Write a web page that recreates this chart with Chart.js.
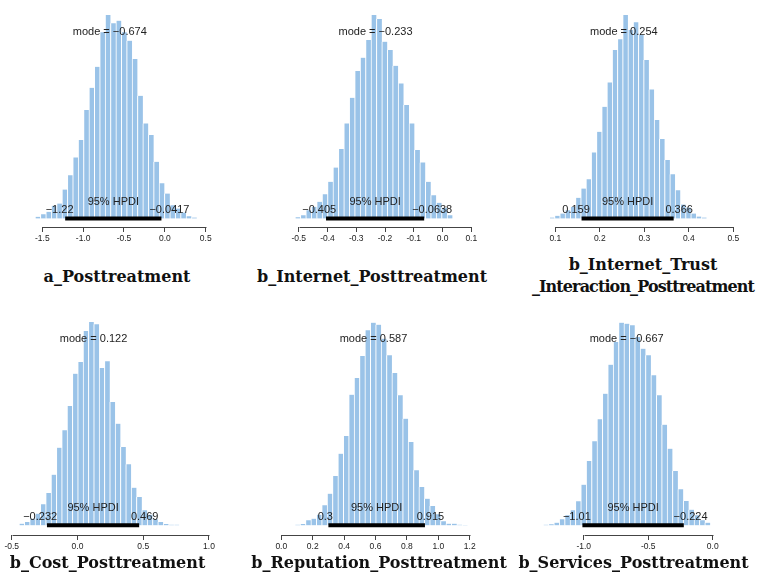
<!DOCTYPE html>
<html>
<head>
<meta charset="utf-8">
<script src="https://cdn.jsdelivr.net/npm/chart.js@4.4.0/dist/chart.umd.min.js"></script>
<style>
    body { margin: 0; background: #fff; width: 759px; height: 579px; position: relative; overflow: hidden; }
    .panel { position: absolute; }
    .title {
        position: absolute; transform: translate(-50%, -50%);
        font: bold 16px 'DejaVu Serif', serif; color: #111;
        white-space: nowrap; text-align: center; line-height: 22px;
    }
    .title .tight { letter-spacing: -0.9px; }
</style>
</head>
<body>
<script>
// 参数名称（标题）
const titles = [
    ['a_Posttreatment'],
    ['b_Internet_Posttreatment'],
    ['b_Internet_Trust', '_Interaction_Posttreatment'],
    ['b_Cost_Posttreatment'],
    ['b_Reputation_Posttreatment'],
    ['b_Services_Posttreatment']
];

// 直方图高度（相对计数）
const counts1 = [5, 13, 20, 38, 45, 87, 130, 183, 235, 325, 392, 455, 558, 610, 585, 593, 558, 533, 478, 368, 285, 250, 170, 106, 75, 40, 30, 18, 7, 3];
const counts2 = [4, 10, 25, 35, 50, 73, 110, 153, 208, 285, 362, 442, 482, 535, 610, 598, 530, 505, 458, 405, 340, 285, 205, 168, 110, 70, 47, 32, 10];
const counts3 = [3, 8, 15, 25, 35, 62, 90, 118, 198, 260, 335, 408, 505, 537, 610, 565, 588, 550, 475, 387, 295, 238, 175, 133, 85, 42, 33, 15, 6, 3];
const counts4 = [5, 10, 20, 35, 63, 97, 152, 233, 285, 358, 455, 490, 583, 610, 603, 472, 492, 370, 305, 235, 183, 113, 85, 45, 32, 18, 10, 4, 2, 2];
const counts5 = [2, 4, 15, 20, 32, 60, 95, 148, 215, 268, 392, 442, 508, 585, 608, 602, 560, 510, 457, 390, 320, 250, 165, 115, 80, 58, 33, 12, 5, 5, 2, 1];
const counts6 = [2, 3, 8, 18, 30, 45, 72, 122, 193, 252, 318, 395, 482, 550, 608, 605, 600, 565, 530, 510, 450, 390, 302, 230, 163, 108, 73, 47, 30, 15, 8];
const allCounts = [counts1, counts2, counts3, counts4, counts5, counts6];

// 直方图分组：起点与组距
const binStart = [-1.589, -0.513, 0.0865, -0.4445, 0.0854, -1.315];
const binWidth = [0.066, 0.01888, 0.01178, 0.0406, 0.0344, 0.0418];

// 众数与95% HPDI
const modes = [-0.674, -0.233, 0.254, 0.122, 0.587, -0.667];
const hpdiLow = [-1.22, -0.405, 0.159, -0.232, 0.3, -1.01];
const hpdiHigh = [-0.0417, -0.0638, 0.366, 0.469, 0.915, -0.224];

// 坐标轴刻度
const ticks1 = [-1.5, -1.0, -0.5, 0.0, 0.5];
const ticks2 = [-0.5, -0.4, -0.3, -0.2, -0.1, 0.0, 0.1];
const ticks3 = [0.1, 0.2, 0.3, 0.4, 0.5];
const ticks4 = [-0.5, 0.0, 0.5, 1.0];
const ticks5 = [0.0, 0.2, 0.4, 0.6, 0.8, 1.0, 1.2];
const ticks6 = [-1.0, -0.5, 0.0];
const allTicks = [ticks1, ticks2, ticks3, ticks4, ticks5, ticks6];

// 版面位置（像素）
const layouts = [
    { x0: 42.3, x1: 205.7, top: 15, zero: 218.5, axis: 227, tx: 117, ty: 277 },
    { x0: 298.7, x1: 471.3, top: 15, zero: 218.5, axis: 227, tx: 372, ty: 277 },
    { x0: 555.3, x1: 733.3, top: 15, zero: 218.5, axis: 227, tx: 643, ty: 276 },
    { x0: 11.7, x1: 209, top: 322, zero: 525.3, axis: 535, tx: 107.5, ty: 563 },
    { x0: 281.3, x1: 469.7, top: 322, zero: 525.3, axis: 535, tx: 379, ty: 563 },
    { x0: 583.7, x1: 712.7, top: 322, zero: 525.3, axis: 535, tx: 633.5, ty: 563 }
];

const YMAX = 610;
const AXIS_H = 22;
const BAR_COLOR = '#9ac3e8';
const TEXT_FONT = '11px "Liberation Sans", Arial, sans-serif';

function fmt(v) {
    return String(v).replace('-', '\u2212');
}

// 注释：坐标轴线、众数、HPDI 文字
const annotate = {
    id: 'annotate',
    afterDatasetsDraw(chart, args, o) {
        const { ctx, chartArea, scales: { x, y } } = chart;
        ctx.save();
        // R 风格的坐标轴线，仅覆盖刻度范围
        const ay = Math.round(chartArea.bottom) + 0.5;
        ctx.strokeStyle = '#444';
        ctx.lineWidth = 1;
        ctx.beginPath();
        ctx.moveTo(Math.round(x.getPixelForValue(o.first)) + 0.5, ay);
        ctx.lineTo(Math.round(x.getPixelForValue(o.last)) + 0.5, ay);
        ctx.stroke();

        ctx.fillStyle = '#222';
        ctx.font = TEXT_FONT;
        ctx.textBaseline = 'middle';
        const y0 = y.getPixelForValue(0);

        // 众数
        ctx.textAlign = 'center';
        ctx.fillText('mode = ' + fmt(o.mode), x.getPixelForValue(o.mode), y.getPixelForValue(YMAX * 0.915));

        // 95% HPDI
        ctx.fillText('95% HPDI', x.getPixelForValue((o.lo + o.hi) / 2), y0 - 17);

        ctx.textAlign = 'left';
        const loTxt = fmt(o.lo), hiTxt = fmt(o.hi);
        const wl = ctx.measureText(loTxt).width, wh = ctx.measureText(hiTxt).width;
        ctx.fillText(loTxt, x.getPixelForValue(o.lo) - 0.7 * wl, y0 - 8.5);
        ctx.fillText(hiTxt, x.getPixelForValue(o.hi) - 0.3 * wh, y0 - 8.5);
        ctx.restore();
    }
};

function buildPanel(i) {
    const L = layouts[i];
    const tk = allTicks[i];
    const counts = allCounts[i];
    const first = tk[0], last = tk[tk.length - 1];
    const ppu = (L.x1 - L.x0) / (last - first);
    const barLo = binStart[i];
    const barHi = binStart[i] + binWidth[i] * counts.length;
    const lo = Math.min(first, barLo), hi = Math.max(last, barHi);
    const left = Math.floor(L.x0 + (lo - first) * ppu - 26);
    const right = Math.ceil(L.x0 + (hi - first) * ppu + 26);
    const xmin = first + (left - L.x0) / ppu;
    const xmax = first + (right - L.x0) / ppu;
    const ymin = -(L.axis - L.zero) * YMAX / (L.zero - L.top);

    const box = document.createElement('div');
    box.className = 'panel';
    box.style.left = left + 'px';
    box.style.top = L.top + 'px';
    box.style.width = (right - left) + 'px';
    box.style.height = (L.axis - L.top + AXIS_H) + 'px';
    const canvas = document.createElement('canvas');
    box.appendChild(canvas);
    document.body.appendChild(box);

    const t = document.createElement('div');
    t.className = 'title';
    t.style.left = L.tx + 'px';
    t.style.top = L.ty + 'px';
    t.innerHTML = titles[i].map((s, k) => k > 0 ? '<span class="tight">' + s + '</span>' : s).join('<br>');
    document.body.appendChild(t);

    const bars = counts.map((c, k) => ({ x: binStart[i] + binWidth[i] * (k + 0.5), y: c }));

    new Chart(canvas, {
        type: 'bar',
        data: {
            datasets: [{
                type: 'line',
                data: [{ x: hpdiLow[i], y: 0 }, { x: hpdiHigh[i], y: 0 }],
                borderColor: '#000',
                borderWidth: 4,
                borderCapStyle: 'butt',
                pointRadius: 0,
                order: 0
            }, {
                type: 'bar',
                data: bars,
                backgroundColor: BAR_COLOR,
                borderColor: '#fff',
                borderWidth: { left: 1, right: 0, top: 0, bottom: 0 },
                barPercentage: 1,
                categoryPercentage: 1,
                order: 1
            }]
        },
        options: {
            responsive: true,
            maintainAspectRatio: false,
            animation: false,
            layout: { padding: 0 },
            plugins: {
                legend: { display: false },
                tooltip: { enabled: false },
                annotate: { first: first, last: last, mode: modes[i], lo: hpdiLow[i], hi: hpdiHigh[i] }
            },
            scales: {
                x: {
                    type: 'linear',
                    min: xmin,
                    max: xmax,
                    offset: false,
                    border: { display: false },
                    grid: { drawOnChartArea: false, drawTicks: true, tickLength: 5, color: '#444', offset: false },
                    afterBuildTicks: s => { s.ticks = tk.map(v => ({ value: v })); },
                    afterFit: s => { s.height = AXIS_H; },
                    ticks: {
                        padding: 2,
                        autoSkip: false,
                        maxRotation: 0,
                        color: '#222',
                        font: { family: '"Liberation Sans", Arial, sans-serif', size: 8.5 },
                        callback: v => v.toFixed(1)
                    }
                },
                y: { display: false, min: ymin, max: YMAX }
            }
        },
        plugins: [annotate]
    });
}

for (let i = 0; i < 6; i++) buildPanel(i);
</script>
</body>
</html>
